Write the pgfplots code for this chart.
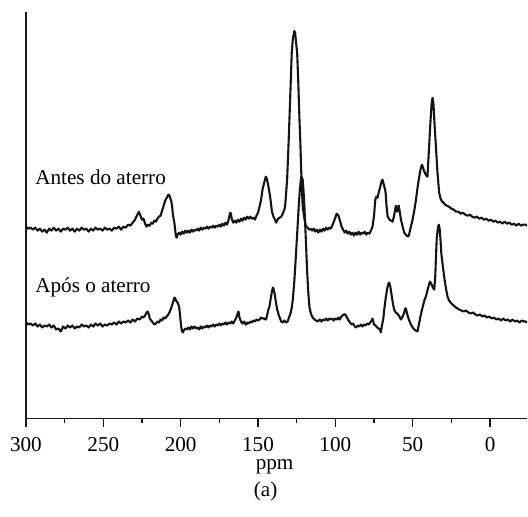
\documentclass[border=0pt]{standalone}
\usepackage{fontspec}
\setmainfont{Liberation Serif}
\usepackage{pgfplots}
\pgfplotsset{compat=1.18}

\pgfplotstableread{
ppm y
300 192
298.5 190
297 191
295.5 189
294 191
292.5 188
291 190
289.5 187
288 189
286.5 186
285 190
283.5 188
282 191
280.5 188
279 190
277.5 187
276 190
274.5 189
273 191
271.5 188
270 190
268.5 187
267 190
265.5 188
264 191
262.5 189
261 190
259.5 187
258 190
256.5 188
255 191
253.5 189
252 190
250.5 188
249 191
247.5 189
246 190
244.5 188
243 191
241.5 190
240 192
238.5 189
237 192
235.5 191
234 194
232.5 193
231 196
229.5 199
228 204
227 207
226 203
225 199
224 200
223 195
222 192
221 194
220 193
219 196
218 195
217 198
216 197
215 200
214 202
213 203
212 208
211 213
210 218
209 221
208 224
207.5 224
207 222
206 217
205.5 212
205 204
204 195
203.5 188
203 182
202.5 181
202 184
201 186
200 184
199 187
198 185
197 188
196 186
195 188
194 186
193 189
192 187
191 189
190 188
189 190
188 188
187 191
186 189
185 191
184 190
183 192
182 190
181 192
180 191
179 193
178 191
177 193
176 192
175 194
174 192
173 195
172 193
171 196
170 194
169 199
168 206
167.5 205
167 200
166 196
165 198
164 196
163 199
162 197
161 200
160 198
159 201
158 199
157 202
156 200
155 202
154 200
153 201
152 199
151 203
150 206
149 212
148 219
147 230
146 236
145 242
144.5 241
144 238
143 230
142 220
141 207
140 202
139 199
138.3 196
137 200
136 201
135 202
134 205
133 209
132.5 212
132 222
131.2 239
130.5 265
129.7 299
129 330
128.2 366
127.5 380
126.5 388
126 386
125.5 378
124.7 366
124 338
123.2 299
122.6 275
122.1 249
121.6 228
121.1 212
120 200
119 192
118 191
117 189
116 190
115 188
114 190
113 187
112 189
111 186
110 189
109 187
108 190
107 188
106 191
105 189
104 191
103 190
102 193
101 197
100 201
99.5 204
99 205
98 203
97 198
96 192
95 189
94 186
93 188
92 185
91 187
90 184
89 186
88 183
87 186
86 184
85 187
84 184
83 186
82 185
81 187
80 184
79 186
78 185
77 188
76 192
75 203
74.2 219
73.5 222
72.7 221
72 226
71 232
70 238
69.5 239
69 236
68 230
67.5 226
67 214
66.2 202
65 199
64 198
63 197
62 203
61.5 208
61 212
60.8 213
60 207
59.5 212
59 213
58.5 208
57.6 199
56.5 192
55.5 186
54.5 184
53.3 182
52.5 183
51.5 190
50.1 199
49 208
47.9 219
46.8 232
45.8 242
45 249
44.1 254
43.5 252
42.5 247
41.5 244
40.5 242
39.4 272
38.5 298
37.8 315
37.2 321
36.6 315
35.8 292
35 272
34 246
32.9 226
32 220
31 217
30 216
29 214
28 213
26.5 212
25 210
23.5 209
22 207
20.5 207
19 205
17.5 206
16 204
14.5 203
13 204
11.6 202
10 201
8.5 202
7 200
5.5 201
4 199
2.5 200
1 198
-0.5 199
-2 197
-3.5 198
-5 196
-6.5 197
-8 195
-9.5 197
-11 195
-12.5 196
-14 194
-15.5 195
-17 193
-18.5 195
-20 193
-21.5 194
-23 194
-24 193
}\antes

\pgfplotstableread{
ppm y
300 96
298.5 94
297 95
295.5 93
294 95
292.5 92
291 94
289.5 91
288 93
286.5 92
285 94
283.5 91
282 93
280.5 89
279 90
277.5 87
276 92
274.5 90
273 93
271.5 91
270 93
268.5 90
267 92
265.5 91
264 94
262.5 92
261 93
259.5 91
258 94
256.5 92
255 95
253.5 93
252 95
250.5 92
249 94
247.5 93
246 95
244.5 94
243 96
241.5 94
240 97
238.5 95
237 97
235.5 96
234 98
232.5 96
231 99
229.5 97
228 100
226.5 99
225 102
224 101
223 103
222 106
221.3 107
220.5 104
220 100
219 98
218 96
217 94
216 95
215 97
214 96
213 99
212 98
211 101
210 100
209 102
208 104
207 107
206 111
205 116
204 121
203.5 120
203 118
202 116
201 112
200.5 105
200 97
199.5 90
199 87
198.5 86
198 88
197 90
196 89
195 91
194 89
193 92
192 90
191 92
190 90
189 91
188 89
187 92
186 90
185 92
184 91
183 93
182 91
181 93
180 92
179 94
178 92
177 94
176 93
175 95
174 93
173 95
172 94
171 96
170 94
169 96
168 95
167 97
166 95
165 98
164 101
163 106
162.6 107
162 101
161 97
160 95
159 97
158 94
157.6 94
157 96
156 95
155 97
154 96
153 98
152 97
151 99
150 98
149 99
148 101
147 100
146 100
145 99
144.8 99
144 104
143.5 108
142.6 112
141.8 120
141 127
140.4 131
140 130
139.3 125
138.5 117
137.6 109
136.5 103
135 97
134 96
133 98
132 96
131 97
130.8 97
130 101
129 105
128.3 110
127.5 119
126.5 138
125.4 166
124.5 190
123.7 212
123 228
122.1 242
121.6 241
121.1 239
120.5 226
120 212
119.2 183
118.3 149
117.5 126
116.8 112
116 106
115.3 103
114.6 101
113.5 99
112.5 98
111.2 97
110 99
109 97
108 99
107 98
106 100
105 98
104 100
103 99
102 100
101 98
100 100
99 99
98 101
97.4 99
96.5 101
95.5 103
94.5 104
93.5 104
92.5 101
91.5 98
90.5 96
89.5 94
88.5 95
87.5 92
86.7 91
85.5 93
84.5 92
83.5 94
82.5 92
81.5 94
80.5 93
79.5 95
78.5 94
77.5 96
76.5 98
76 100
75.5 97
75 94
74 93
73 91
72 90
71 88
70.6 86
70 92
69 100
68.4 109
67.5 120
66.5 130
65.7 135
65.2 136
64.5 132
63.5 122
62.7 114
62 109
61 106
60 105
59 103
58.3 101
57.6 99
56.5 102
55.5 106
54.9 110
54.4 110
53.5 104
52.5 99
51.2 94
50 91
49 89
48 88
46.9 87
46 94
45 102
44 109
43 115
42.3 119
41.5 122
40.5 128
39.8 132
38.9 137
38 135
37 131
36.1 129
35.5 140
35 160
34.5 180
33.6 192
33.1 194
32.6 190
32 178
31.5 165
30.5 152
29.5 140
28.5 130
27.5 122
26.5 118
25 115
23.5 113
22 111
20 109
18.5 108
17 107
15.5 108
14 106
12.5 105
11 106
9.5 104
8 103
6.5 104
5 102
3.5 103
2 101
0.6 102
-1 100
-2.5 101
-4 99
-5.5 100
-7 98
-8.5 100
-10 98
-11.5 99
-13 97
-14.5 99
-16 97
-17.5 98
-19 96
-20.5 98
-22 97
-23 97
-24 96
}\apos

\begin{document}
\begin{tikzpicture}
\begin{axis}[
    at={(0pt,0pt)}, anchor=south west,
    scale only axis,
    width=251pt, height=203.5pt,
    x dir=reverse,
    xmin=-24, xmax=300,
    ymin=0, ymax=407,
    axis x line*=bottom,
    axis y line*=left,
    axis line style={black!90, line width=0.8pt},
    ytick=\empty,
    xtick={0,50,...,300},
    minor xtick={25,75,...,275},
    tick align=outside,
    major tick length=4.3pt,
    minor tick length=2.2pt,
    every tick/.style={black!90, line width=0.7pt},
    /pgf/number format/assume math mode=true,
    xticklabel style={font=\fontsize{10.6}{12}\selectfont, anchor=base, yshift=-12.3pt},
]
\addplot[black!92, line width=1.05pt, line join=round] table[x=ppm, y=y] {\antes};
\addplot[black!92, line width=1.05pt, line join=round] table[x=ppm, y=y] {\apos};
\end{axis}
\begin{scope}[font=\fontsize{10.6}{12}\selectfont]
\node[anchor=base west, inner sep=0pt] at (4.5pt,117pt) {Antes do aterro};
\node[anchor=base west, inner sep=0pt] at (4.5pt,63pt) {Após o aterro};
\node[anchor=base, inner sep=0pt] at (124.5pt,-25.5pt) {ppm};
\node[anchor=base, inner sep=0pt] at (120pt,-39pt) {(a)};
\end{scope}
\path (-13pt,-49pt) rectangle (251pt,209.5pt);
\end{tikzpicture}
\end{document}
